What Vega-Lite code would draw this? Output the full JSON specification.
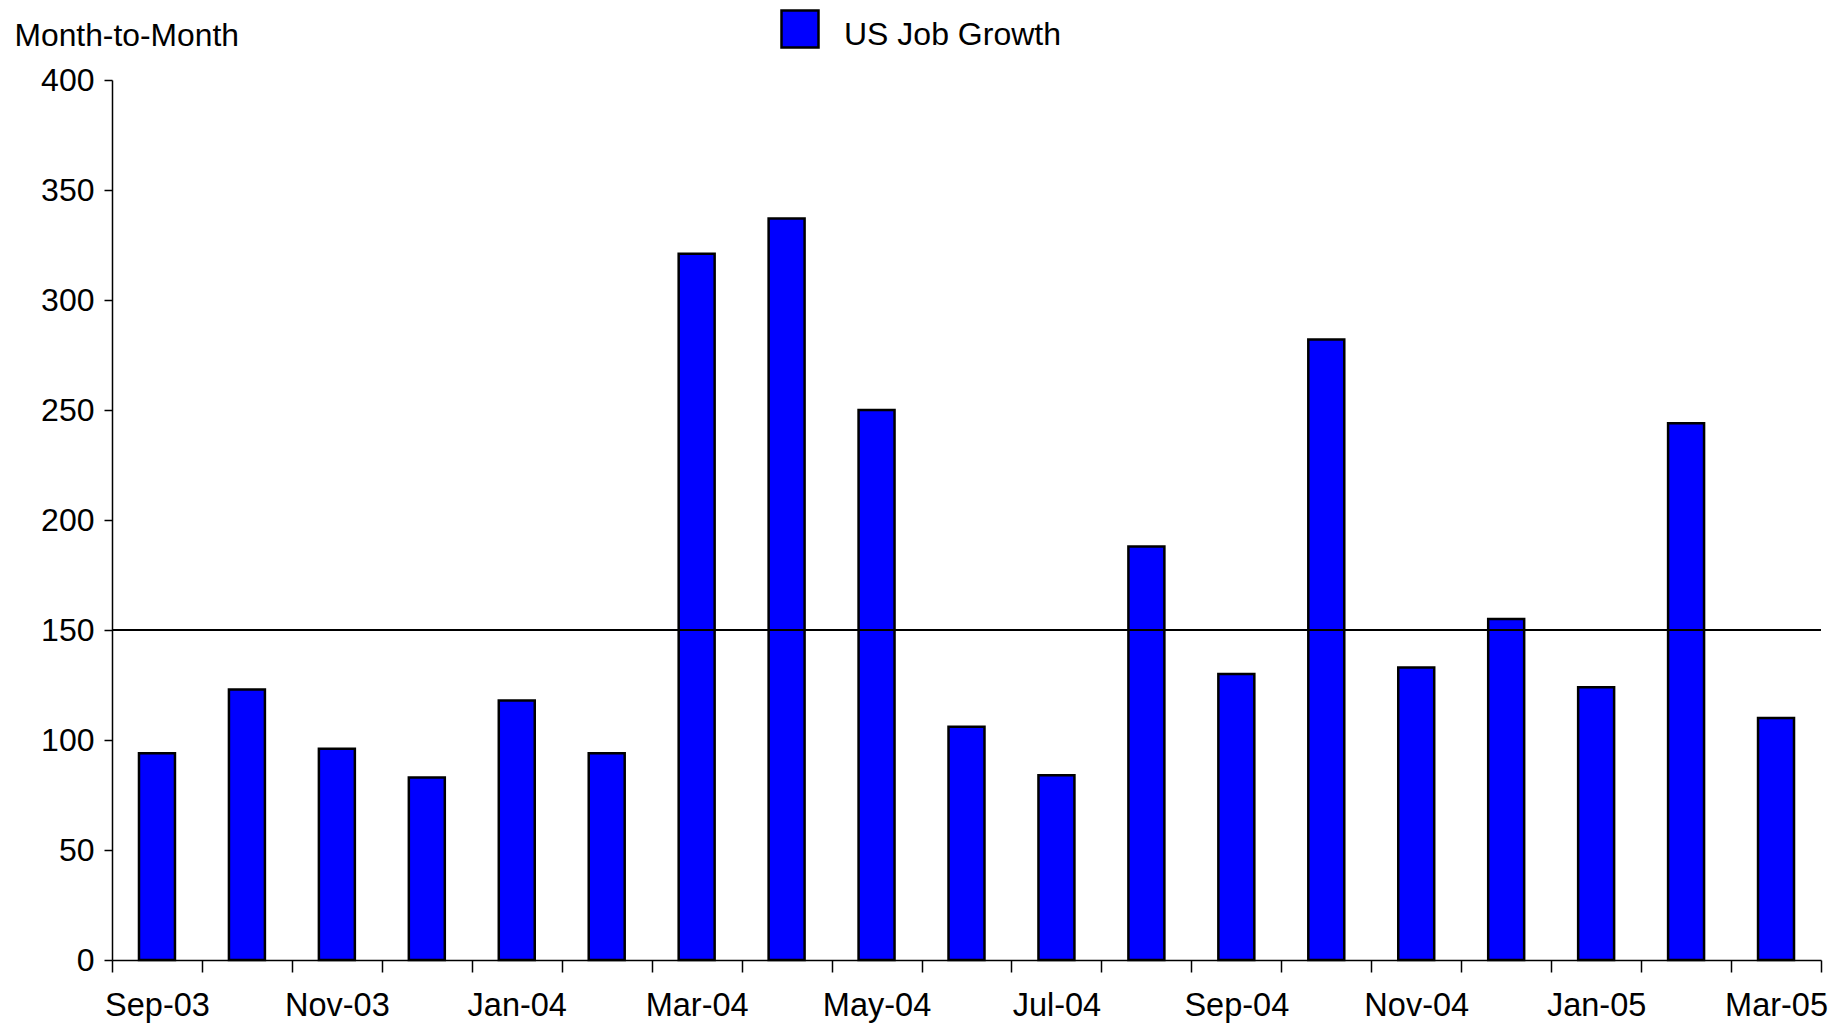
{
  "$schema": "https://vega.github.io/schema/vega-lite/v6.json",
  "width": 1709,
  "height": 880,
  "autosize": {"type": "none"},
  "padding": {"left": 112, "top": 80, "right": 26, "bottom": 65},
  "background": "white",
  "config": {
    "view": {"stroke": null},
    "font": "Liberation Sans",
    "axis": {"labelFont": "Liberation Sans", "titleFont": "Liberation Sans", "labelColor": "black", "titleColor": "black", "domainColor": "black", "tickColor": "black", "grid": false},
    "legend": {"labelFont": "Liberation Sans"}
  },
  "data": {
    "values": [
      {"month": "Sep-03", "jobs": 94},
      {"month": "Oct-03", "jobs": 123},
      {"month": "Nov-03", "jobs": 96},
      {"month": "Dec-03", "jobs": 83},
      {"month": "Jan-04", "jobs": 118},
      {"month": "Feb-04", "jobs": 94},
      {"month": "Mar-04", "jobs": 321},
      {"month": "Apr-04", "jobs": 337},
      {"month": "May-04", "jobs": 250},
      {"month": "Jun-04", "jobs": 106},
      {"month": "Jul-04", "jobs": 84},
      {"month": "Aug-04", "jobs": 188},
      {"month": "Sep-04", "jobs": 130},
      {"month": "Oct-04", "jobs": 282},
      {"month": "Nov-04", "jobs": 133},
      {"month": "Dec-04", "jobs": 155},
      {"month": "Jan-05", "jobs": 124},
      {"month": "Feb-05", "jobs": 244},
      {"month": "Mar-05", "jobs": 110}
    ]
  },
  "layer": [
    {
      "mark": {"type": "bar", "width": {"band": 0.4}, "stroke": "black", "strokeWidth": 2.5, "fillOpacity": 1},
      "encoding": {
        "x": {
          "field": "month",
          "type": "ordinal",
          "sort": null,
          "scale": {"paddingInner": 0, "paddingOuter": 0},
          "axis": {
            "title": null,
            "labelAngle": 0,
            "labelFontSize": 32.5,
            "labelPadding": 17,
            "tickSize": 12,
            "tickWidth": 1.5,
            "domainWidth": 1.5,
            "tickBand": "extent",
            "labelOverlap": false,
            "labelExpr": "indexof(['Sep','Nov','Jan','Mar','May','Jul'], slice(datum.label, 0, 3)) >= 0 ? datum.label : ''"
          }
        },
        "y": {
          "field": "jobs",
          "type": "quantitative",
          "scale": {"domain": [0, 400], "nice": false},
          "axis": {
            "values": [0, 50, 100, 150, 200, 250, 300, 350, 400],
            "labelFontSize": 32,
            "labelPadding": 10,
            "tickSize": 8,
            "tickWidth": 1.5,
            "domainWidth": 1.5,
            "title": "Month-to-Month",
            "titleFontSize": 31.8,
            "titleFontWeight": "normal",
            "titleAngle": 0,
            "titleAlign": "left",
            "titleBaseline": "middle",
            "titleX": -98,
            "titleY": -45
          }
        },
        "color": {
          "datum": "US Job Growth",
          "type": "nominal",
          "scale": {"range": ["#0000FF"]},
          "legend": {
            "title": null,
            "orient": "none",
            "legendX": 668,
            "legendY": -71,
            "symbolType": "square",
            "symbolSize": 1369,
            "symbolStrokeColor": "black",
            "symbolStrokeWidth": 2.5,
            "symbolOpacity": 1,
            "labelFontSize": 32,
            "labelColor": "black",
            "labelOffset": 24,
            "labelLimit": 0,
            "labelBaseline": "middle",
            "encode": {"labels": {"update": {"dy": {"value": 6}}}}
          }
        }
      }
    },
    {
      "mark": {"type": "rule", "color": "black", "strokeWidth": 1.8},
      "encoding": {"y": {"datum": 150}}
    }
  ]
}
